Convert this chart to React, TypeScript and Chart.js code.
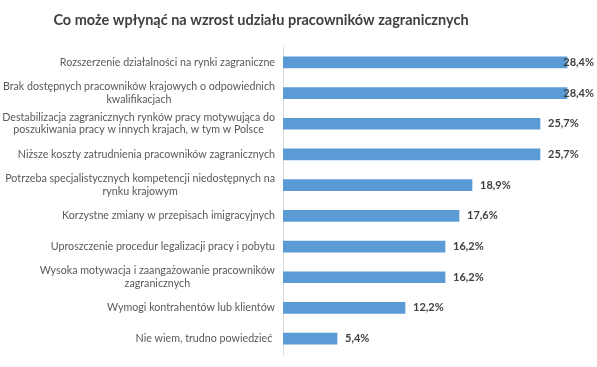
import React, { useEffect, useRef } from "react";
import { Chart, registerables } from "chart.js";

Chart.register(...registerables);

const TITLE = "Co może wpłynąć na wzrost udziału pracowników zagranicznych";

const categories: (string | string[])[] = [
  "Rozszerzenie działalności na rynki zagraniczne",
  ["Brak dostępnych pracowników krajowych o odpowiednich", "kwalifikacjach"],
  ["Destabilizacja zagranicznych rynków pracy motywująca do", "poszukiwania pracy w innych krajach, w tym w Polsce"],
  "Niższe koszty zatrudnienia pracowników zagranicznych",
  ["Potrzeba specjalistycznych kompetencji niedostępnych na", "rynku krajowym"],
  "Korzystne zmiany w przepisach imigracyjnych",
  "Uproszczenie procedur legalizacji pracy i pobytu",
  ["Wysoka motywacja i zaangażowanie pracowników", "zagranicznych"],
  "Wymogi kontrahentów lub klientów",
  "Nie wiem, trudno powiedzieć ",
];

const values: number[] = [28.4, 28.4, 25.7, 25.7, 18.9, 17.6, 16.2, 16.2, 12.2, 5.4];

const FONT = "Lato, 'Open Sans', sans-serif";

const customDraw = {
  id: "customDraw",
  afterDraw(chart: any) {
    const ctx = chart.ctx;
    const yScale = chart.scales.y;
    const area = chart.chartArea;
    ctx.save();
    // title
    ctx.font = `bold 14.5px ${FONT}`;
    ctx.fillStyle = "#404040";
    ctx.textAlign = "center";
    ctx.textBaseline = "alphabetic";
    ctx.fillText(TITLE, 261, 25);

    // category labels
    ctx.textBaseline = "middle";
    ctx.font = `10.7px ${FONT}`;
    ctx.fillStyle = "#595959";
    const rightEdge = area.left - 8;
    const lineH = 12.5;
    categories.forEach((lab, i) => {
      const lines = Array.isArray(lab) ? lab : [lab];
      const y = yScale.getPixelForValue(i);
      const maxW = Math.max(...lines.map((l) => ctx.measureText(l).width));
      const cx = rightEdge - maxW / 2;
      lines.forEach((l, j) => {
        const ly = y + (j - (lines.length - 1) / 2) * lineH;
        ctx.textAlign = "center";
        ctx.fillText(l, cx, ly);
      });
    });

    // value labels
    ctx.font = `bold 11px ${FONT}`;
    ctx.fillStyle = "#404040";
    ctx.textAlign = "left";
    const meta = chart.getDatasetMeta(0);
    const limit = 594;
    meta.data.forEach((bar: any, i: number) => {
      const txt = values[i].toFixed(1).replace(".", ",") + "%";
      const w = ctx.measureText(txt).width;
      const x = Math.min(bar.x + 8, limit - w);
      ctx.fillText(txt, x, bar.y);
    });
    ctx.restore();
  },
};

export default function App() {
  const ref = useRef<HTMLCanvasElement | null>(null);
  useEffect(() => {
    if (!ref.current) return;
    const chart = new Chart(ref.current, {
      type: "bar",
      data: {
        labels: categories.map((c) => (Array.isArray(c) ? c.join(" ") : c)),
        datasets: [
          {
            data: values,
            backgroundColor: "#5B9BD5",
            barThickness: 11,
          },
        ],
      },
      options: {
        indexAxis: "y",
        animation: false,
        responsive: false,
        maintainAspectRatio: false,
        layout: { padding: { left: 283, right: 14, top: 47, bottom: 13 } },
        plugins: {
          legend: { display: false },
          title: { display: false },
          tooltip: { enabled: false },
        },
        scales: {
          x: { display: false, min: 0, max: 30 },
          y: {
            display: true,
            ticks: { display: false },
            grid: { display: false },
            border: { display: true, color: "#d9d9d9", width: 1 },
            afterFit: (s: any) => {
              s.width = 0;
            },
          },
        },
      },
      plugins: [customDraw],
    });
    return () => chart.destroy();
  }, []);
  return (
    <div style={{ position: "fixed", left: 0, top: 0, width: 597, height: 367, background: "#fff" }}>
      <canvas ref={ref} width={597} height={367} style={{ width: 597, height: 367 }} />
    </div>
  );
}
